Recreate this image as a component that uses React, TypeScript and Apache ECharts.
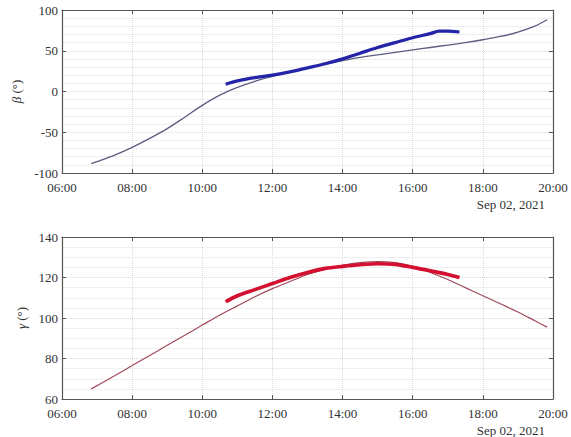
import React, { useEffect, useRef } from "react";
import * as echarts from "echarts";

// Top panel (β) – thin model curve
const betaModelTimes = ["06:50","07:00","07:30","08:00","08:30","09:00","09:30","10:00","10:30","11:00","11:30","12:00","12:30","13:00","13:30","14:00","14:30","15:00","15:30","16:00","16:30","17:00","17:30","18:00","18:30","19:00","19:30","19:50"];
const betaModelValues = [-88.5,-86,-78,-68.5,-57.5,-45.5,-31.5,-17,-4.5,5,12.5,18.5,24,29,33.5,38,42,45,48,51,54,57,60,63.5,67.5,73,80.5,88];
// Top panel (β) – thick measured curve
const betaObsTimes = ["10:40","11:00","11:30","12:00","12:30","13:00","13:30","14:00","14:30","15:00","15:30","16:00","16:30","16:45","17:00","17:20"];
const betaObsValues = [9,13,17,20,24,29,34,40,47,54,60,66,71,74,74,73];
// Bottom panel (γ) – thin model curve
const gammaModelTimes = ["06:50","07:30","08:00","08:30","09:00","09:30","10:00","10:30","11:00","11:30","12:00","12:30","13:00","13:30","14:00","14:30","15:00","15:30","16:00","16:30","17:00","17:30","18:00","18:30","19:00","19:30","19:50"];
const gammaModelValues = [65,71.5,76.5,81.5,86.5,91.5,96.5,101.5,106,110.5,114.5,118,121.5,124,126,127.3,127.8,127.3,125.5,122.5,119,115,111,107,103,98.5,95.5];
// Bottom panel (γ) – thick measured curve
const gammaObsTimes = ["10:40","11:00","11:30","12:00","12:30","13:00","13:30","14:00","14:30","15:00","15:30","16:00","16:30","17:00","17:20"];
const gammaObsValues = [108,111,114,117,120,122.5,124.5,125.5,126.3,126.8,126.5,125,123.3,121.5,120];

const xTickLabels = ["06:00","08:00","10:00","12:00","14:00","16:00","18:00","20:00"];
const dateLabel = "Sep 02, 2021";

const toHours = (t: string) => {
  const [h, m] = t.split(":").map(Number);
  return h + m / 60;
};
const pairs = (ts: string[], vs: number[]) => ts.map((t, i) => [toHours(t), vs[i]]);

const FONT = "Liberation Serif, Times New Roman, serif";
const FS = 13;
const TXT = "#333";
const AX = "#555";

export default function App() {
  const ref = useRef<HTMLDivElement>(null);
  useEffect(() => {
    if (!ref.current) return;
    const chart = echarts.init(ref.current, undefined, { renderer: "svg" });
    const grids = [
      { left: 62, top: 10, width: 491, height: 163 },
      { left: 62, top: 237, width: 491, height: 162 },
    ];
    const labelFmt = (v: number) => {
      const idx = Math.round((v - 6) / 2);
      return xTickLabels[idx] ?? "";
    };
    const xAxes: any[] = [];
    const yAxes: any[] = [];
    [0, 1].forEach((g) => {
      xAxes.push({
        type: "value", gridIndex: g, min: 6, max: 20, interval: 2, position: "bottom",
        axisLine: { show: true, onZero: false, lineStyle: { color: AX, width: 1.2 } },
        axisTick: { show: true, inside: true, length: 4, lineStyle: { color: AX } },
        axisLabel: { formatter: labelFmt, fontFamily: FONT, fontSize: FS, color: TXT, margin: 8 },
        splitLine: { show: true, lineStyle: { color: "#d9d9d9", type: "dotted" } },
      });
      xAxes.push({
        type: "value", gridIndex: g, min: 6, max: 20, interval: 2, position: "top",
        axisLine: { show: true, onZero: false, lineStyle: { color: AX, width: 1.2 } },
        axisTick: { show: true, inside: true, length: 4, lineStyle: { color: AX } },
        axisLabel: { show: false }, splitLine: { show: false },
      });
      const yr = g === 0 ? { min: -100, max: 100, interval: 50, minor: 5 } : { min: 60, max: 140, interval: 20, minor: 4 };
      yAxes.push({
        type: "value", gridIndex: g, min: yr.min, max: yr.max, interval: yr.interval, position: "left",
        name: g === 0 ? "{i|β} (°)" : "{i|γ} (°)",
        nameLocation: "middle", nameGap: 34,
        nameTextStyle: { fontFamily: FONT, fontSize: FS, color: TXT, rich: { i: { fontStyle: "italic", fontFamily: FONT, fontSize: FS, color: TXT } } },
        axisLine: { show: true, onZero: false, lineStyle: { color: AX, width: 1.2 } },
        axisTick: { show: true, inside: true, length: 4, lineStyle: { color: AX } },
        axisLabel: { fontFamily: FONT, fontSize: FS, color: TXT, margin: 4 },
        splitLine: { show: true, lineStyle: { color: "#d9d9d9", type: "dotted" } },
        minorTick: { show: false, splitNumber: yr.minor },
        minorSplitLine: { show: true, lineStyle: { color: "#efefef", width: 1 } },
      });
      yAxes.push({
        type: "value", gridIndex: g, min: yr.min, max: yr.max, interval: yr.interval, position: "right",
        axisLine: { show: true, onZero: false, lineStyle: { color: AX, width: 1.2 } },
        axisTick: { show: true, inside: true, length: 4, lineStyle: { color: AX } },
        axisLabel: { show: false }, splitLine: { show: false },
      });
    });
    chart.setOption({
      animation: false,
      backgroundColor: "#fff",
      grid: grids,
      xAxis: xAxes,
      yAxis: yAxes,
      series: [
        { type: "line", xAxisIndex: 0, yAxisIndex: 0, data: pairs(betaModelTimes, betaModelValues), showSymbol: false, smooth: 0.3, lineStyle: { color: "#5c5c80", width: 1.3 }, z: 2 },
        { type: "line", xAxisIndex: 0, yAxisIndex: 0, data: pairs(betaObsTimes, betaObsValues), showSymbol: false, smooth: 0.3, lineStyle: { color: "#2424a8", width: 3.2 }, z: 3 },
        { type: "line", xAxisIndex: 2, yAxisIndex: 2, data: pairs(gammaModelTimes, gammaModelValues), showSymbol: false, smooth: 0.3, lineStyle: { color: "#a04a5a", width: 1.2 }, z: 2 },
        { type: "line", xAxisIndex: 2, yAxisIndex: 2, data: pairs(gammaObsTimes, gammaObsValues), showSymbol: false, smooth: 0.3, lineStyle: { color: "#d41030", width: 3.6 }, z: 3 },
      ],
      graphic: [
        { type: "text", right: 26, top: 198, style: { text: dateLabel, fontFamily: FONT, fontSize: FS, fill: TXT } },
        { type: "text", right: 26, top: 424, style: { text: dateLabel, fontFamily: FONT, fontSize: FS, fill: TXT } },
      ],
    });
    return () => chart.dispose();
  }, []);
  return <div ref={ref} style={{ position: "fixed", left: 0, top: 0, width: 571, height: 437, background: "#fff" }} />;
}
